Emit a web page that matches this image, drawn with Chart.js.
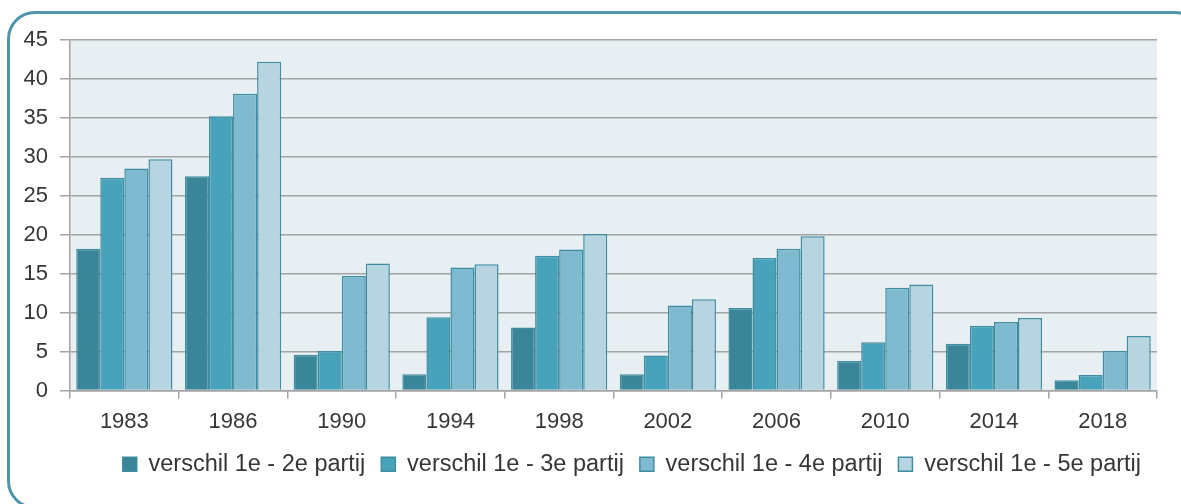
<!DOCTYPE html>
<html lang="nl">
<head>
    <meta charset="UTF-8">
    <title>Verschil tussen partijen</title>
    <script src="https://cdn.jsdelivr.net/npm/chart.js"></script>
    <style>
        html, body { margin: 0; padding: 0; background: #fff; }
        #wrap { position: relative; width: 1181px; height: 504px; overflow: hidden; }
        #frame {
            position: absolute; left: 7px; top: 11px; width: 1190px; height: 492px;
            border: 3px solid #4f95aa; border-radius: 28px;
        }
        #chart { position: absolute; left: 0; top: 0; }
    </style>
</head>
<body>
    <div id="wrap">
        <div id="frame"></div>
        <canvas id="chart" width="1181" height="504"></canvas>
    </div>

    <script>
        const years = ['1983', '1986', '1990', '1994', '1998', '2002', '2006', '2010', '2014', '2018'];
        const diff2 = [18.2, 27.5, 4.6, 2.1, 8.1, 2.1, 10.6, 3.8, 6.0, 1.3];
        const diff3 = [27.3, 35.2, 5.1, 9.4, 17.3, 4.5, 17.0, 6.2, 8.3, 2.0];
        const diff4 = [28.5, 38.1, 14.7, 15.8, 18.1, 10.9, 18.2, 13.2, 8.8, 5.1];
        const diff5 = [29.7, 42.2, 16.3, 16.2, 20.1, 11.7, 19.8, 13.6, 9.3, 7.0];
        const seriesNames = [
            'verschil 1e - 2e partij',
            'verschil 1e - 3e partij',
            'verschil 1e - 4e partij',
            'verschil 1e - 5e partij'
        ];
        const fills = ['#3a8598', '#47a2ba', '#7fbad0', '#b6d5e0'];

        const textColor = '#363636';
        const gridColor = '#a3a3a3';

        // light plot background behind the bars
        const plotBg = {
            id: 'plotBg',
            beforeDraw(chart) {
                const { ctx, chartArea: a } = chart;
                ctx.save();
                ctx.fillStyle = '#e8eff3';
                ctx.fillRect(a.left, a.top, a.right - a.left, a.bottom - a.top);
                ctx.restore();
            }
        };

        const datasets = [diff2, diff3, diff4, diff5].map((d, i) => ({
            label: seriesNames[i],
            data: d,
            backgroundColor: fills[i],
            borderColor: '#3f8da1',
            borderWidth: 1.5,
            borderSkipped: 'bottom',
            barPercentage: 1,
            categoryPercentage: 0.885
        }));

        new Chart(document.getElementById('chart'), {
            type: 'bar',
            data: { labels: years, datasets },
            plugins: [plotBg],
            options: {
                responsive: false,
                animation: false,
                devicePixelRatio: 1,
                layout: { padding: { left: 0, right: 24, top: 40, bottom: 18 } },
                plugins: {
                    tooltip: { enabled: false },
                    legend: {
                        position: 'bottom',
                        align: 'end',
                        labels: {
                            color: textColor,
                            font: { family: 'Liberation Sans', size: 23.5 },
                            boxWidth: 14,
                            boxHeight: 14,
                            padding: 16
                        }
                    }
                },
                scales: {
                    x: {
                        afterFit: s => { s.height = 46; },
                        grid: {
                            offset: true,
                            drawOnChartArea: false,
                            color: gridColor,
                            lineWidth: 1.5,
                            tickLength: 8
                        },
                        border: { color: gridColor, width: 1.5 },
                        ticks: {
                            color: textColor,
                            padding: 10,
                            font: { family: 'Liberation Sans', size: 22 }
                        }
                    },
                    y: {
                        min: 0,
                        max: 45,
                        afterFit: s => { s.width = 70; },
                        grid: { color: gridColor, lineWidth: 1.5, tickLength: 10 },
                        border: { color: gridColor, width: 1.5 },
                        ticks: {
                            stepSize: 5,
                            color: textColor,
                            padding: 12,
                            font: { family: 'Liberation Sans', size: 22 }
                        }
                    }
                }
            }
        });
    </script>
</body>
</html>
